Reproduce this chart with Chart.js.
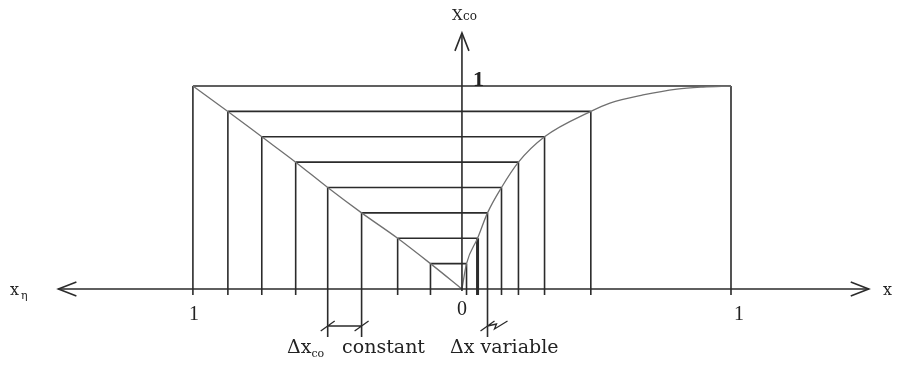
<!DOCTYPE html>
<html>
<head>
<meta charset="utf-8">
<script src="https://cdn.jsdelivr.net/npm/chart.js@4.4.1/dist/chart.umd.min.js"></script>
<style>
  html, body { margin: 0; padding: 0; background: #fff; }
  #wrap { width: 897px; height: 372px; }
</style>
</head>
<body>
<div id="wrap"><canvas id="chart" width="897" height="372"></canvas></div>
<script>
// x_co levels (equal steps) and the matching abscissas on both branches
var levels = [1, 0.875, 0.75, 0.625, 0.5, 0.375, 0.25, 0.125];
var leftX  = [1, 0.870, 0.744, 0.618, 0.499, 0.373, 0.239, 0.117];   // x_eta side
var rightX = [1, 0.479, 0.307, 0.210, 0.147, 0.095, 0.058, 0.017];   // x side
// extra points on the flat upper part of the x branch
var upperX = [0.550, 0.673, 0.799, 0.896];
var upperY = [0.916, 0.956, 0.985, 0.995];
var tickLabels = ["1", "0", "1"];
var tickValues = [-1, 0, 1];

var lineColor = "#2b2b2b";
var curveColor = "#707070";
var tickDrop = -0.03;     // how far the verticals run below the axis
var dimDrop = -0.236;     // longer verticals carrying the dimension marks

var datasets = [];

// left branch: x_eta plotted towards negative x
var leftCurve = [{x: 0, y: 0}];
for (var i = 0; i < levels.length; i++) leftCurve.push({x: -leftX[i], y: levels[i]});
leftCurve.sort(function(a, b) { return a.x - b.x; });
datasets.push({data: leftCurve, borderColor: curveColor, borderWidth: 1.3, cubicInterpolationMode: "monotone"});

var rightCurve = [{x: 0, y: 0}];
for (var i = 0; i < levels.length; i++) rightCurve.push({x: rightX[i], y: levels[i]});
for (var i = 0; i < upperX.length; i++) rightCurve.push({x: upperX[i], y: upperY[i]});
rightCurve.sort(function(a, b) { return a.x - b.x; });
datasets.push({data: rightCurve, borderColor: curveColor, borderWidth: 1.3, cubicInterpolationMode: "monotone"});

// horizontal rungs and the verticals dropped to the axis
for (var i = 0; i < levels.length; i++) {
  datasets.push({data: [{x: -leftX[i], y: levels[i]}, {x: rightX[i], y: levels[i]}],
    borderColor: lineColor, borderWidth: 1.6});
  datasets.push({data: [{x: -leftX[i], y: levels[i]}, {x: -leftX[i], y: (i == 4 || i == 5) ? dimDrop : tickDrop}],
    borderColor: lineColor, borderWidth: 1.6});
  datasets.push({data: [{x: rightX[i], y: levels[i]}, {x: rightX[i], y: i == 5 ? dimDrop : tickDrop}],
    borderColor: lineColor, borderWidth: i == 6 ? 3 : 1.6});
}

function chevron(ctx, x, y, dx, dy) {
  // open arrow head, tip at (x, y), opening along (dx, dy)
  var nx = -dy, ny = dx;
  ctx.beginPath();
  ctx.moveTo(x + dx * 18 + nx * 7, y + dy * 18 + ny * 7);
  ctx.lineTo(x, y);
  ctx.lineTo(x + dx * 18 - nx * 7, y + dy * 18 - ny * 7);
  ctx.stroke();
}

var decor = {
  id: "decor",
  afterDatasetsDraw: function(chart) {
    var ctx = chart.ctx;
    var sx = chart.scales.x, sy = chart.scales.y;
    var px = function(v) { return sx.getPixelForValue(v); };
    var py = function(v) { return sy.getPixelForValue(v); };
    var x0 = px(0), y0 = py(0);

    ctx.save();
    ctx.strokeStyle = lineColor;
    ctx.fillStyle = "#222";
    ctx.lineWidth = 1.6;

    // axes
    ctx.beginPath();
    ctx.moveTo(px(-1.5), y0); ctx.lineTo(px(1.512), y0);
    ctx.moveTo(x0, y0 + 2); ctx.lineTo(x0, py(1.262));
    ctx.stroke();
    chevron(ctx, px(-1.5), y0, 1, 0);
    chevron(ctx, px(1.512), y0, -1, 0);
    chevron(ctx, x0, py(1.262), 0, 1);

    // dimension marks below the axis
    var yd = y0 + 37;
    var a = px(-leftX[4]), b = px(-leftX[5]), c = px(rightX[5]);
    ctx.lineWidth = 1.3;
    ctx.beginPath();
    ctx.moveTo(a, yd); ctx.lineTo(b, yd);
    [a, b, c].forEach(function(x) {
      ctx.moveTo(x - 7, yd + 5); ctx.lineTo(x + 7, yd - 5);
    });
    ctx.moveTo(c, yd); ctx.lineTo(c + 9, yd - 2); ctx.lineTo(c + 7, yd + 3); ctx.lineTo(c + 20, yd - 5);
    ctx.stroke();

    // axis names
    ctx.textBaseline = "alphabetic";
    ctx.textAlign = "left";
    ctx.font = "15px 'DejaVu Serif'";
    ctx.fillText("X", 452, 20);
    ctx.font = "12px 'DejaVu Serif'";
    ctx.fillText("co", 463, 20);
    ctx.font = "16px 'DejaVu Serif'";
    ctx.fillText("x", 10, 295);
    ctx.font = "11px 'DejaVu Serif'";
    ctx.fillText("\u03b7", 21, 299);
    ctx.font = "16px 'DejaVu Serif'";
    ctx.fillText("x", 883, 295);

    // tick labels
    ctx.textAlign = "center";
    ctx.font = "20px 'Liberation Serif'";
    tickValues.forEach(function(v, k) {
      var off = v > 0 ? 8 : (v < 0 ? 1 : 0);
      ctx.fillText(tickLabels[k], px(v) + off, v == 0 ? 315 : 320);
    });
    ctx.font = "bold 22px 'Liberation Serif'";
    ctx.textAlign = "left";
    ctx.fillText("1", 473, 86);

    // captions
    ctx.font = "19px 'DejaVu Serif'";
    ctx.fillText("\u0394x", 287, 353);
    var w = ctx.measureText("\u0394x").width;
    ctx.font = "11px 'DejaVu Serif'";
    ctx.fillText("co", 287 + w, 357);
    ctx.font = "19px 'DejaVu Serif'";
    ctx.textAlign = "right";
    ctx.fillText("constant", 425, 353);
    ctx.textAlign = "left";
    ctx.fillText("\u0394x variable", 450, 353);
    ctx.restore();
  }
};

new Chart(document.getElementById("chart"), {
  type: "scatter",
  data: {datasets: datasets},
  options: {
    responsive: false,
    animation: false,
    showLine: true,
    layout: {padding: 0},
    elements: {point: {radius: 0, hoverRadius: 0}, line: {fill: false}},
    plugins: {legend: {display: false}, tooltip: {enabled: false}},
    scales: {
      x: {type: "linear", display: false, min: -1.717, max: 1.617},
      y: {type: "linear", display: false, min: -0.409, max: 1.424}
    }
  },
  plugins: [decor]
});
</script>
</body>
</html>
